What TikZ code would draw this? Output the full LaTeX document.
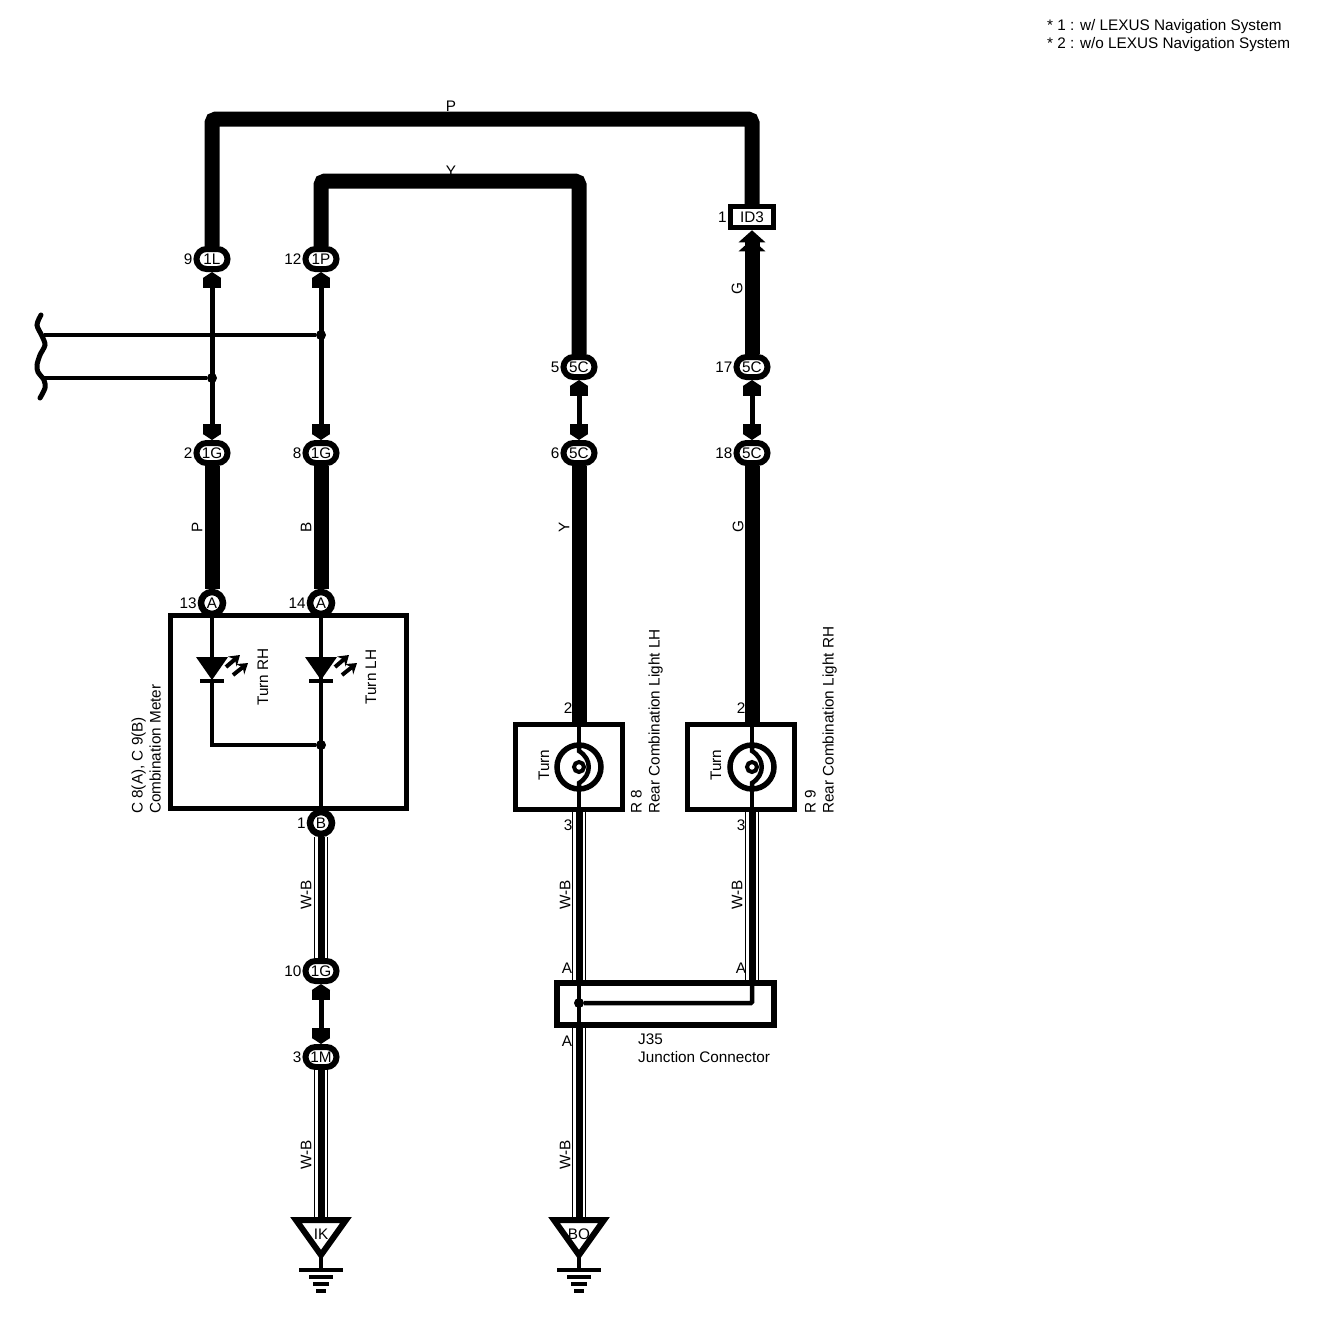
\documentclass[tikz,border=0pt]{standalone}
\usepackage{fontspec}
\setmainfont{Liberation Sans}
\usetikzlibrary{arrows.meta, shapes.geometric}

\begin{document}
\begin{tikzpicture}[
    % GLOBAL CFG
    x=1pt, y=-1pt,
    font=\fontsize{15.3}{18}\selectfont,
    % Styles
    plug/.tip={Square[length=10pt,width=18pt,sep=0pt] Triangle[length=6pt,width=18pt]},
    chevron/.tip={Triangle[length=12pt,width=26pt,sep=-3pt] Triangle[length=12pt,width=26pt]},
    conn/.style={% For the oval connectors
        rectangle,
        rounded corners=10pt,
        draw,
        fill=white,
        line width=6pt,
        minimum width=31pt,
        minimum height=20pt,
        inner sep=0pt,
        },
    pinA/.style={% For the round connectors
        circle,
        draw,
        fill=white,
        line width=6.5pt,
        minimum size=22pt,
        inner sep=0pt,
        },
    idbox/.style={% For the square connector
        rectangle,
        draw,
        fill=white,
        line width=5.5pt,
        minimum width=43pt,
        minimum height=21pt,
        inner sep=0pt,
        },
    unit/.style={% For the component boxes
        rectangle,
        draw,
        line width=5pt,
        },
    dot/.style={%For the splices
        circle,
        fill,
        inner sep=0pt,
        minimum size=10pt,
        },
    pinnum/.style={% Pin numbers
        inner sep=1pt,
        },
    side/.style={% Colour codes and names along the wires
        rotate=90,
        inner sep=0pt,
        },
    wireB/.style={% Big wire
        line width=15pt,
        rounded corners=4pt,
        },
    wireT/.style={% Thin wire
        line width=4.5pt,
        },
    wireP/.style={% Thin wire between two plugs
        line width=5pt,
        {plug}-{plug},
        },
    wireW/.style={% Striped wire
        line width=14pt,
        postaction={draw,white,line width=12pt},
        postaction={draw,black,line width=7pt},
        },
    led/.pic={
        \coordinate (-top) at (0,0);
        \coordinate (-bot) at (0,24);
        \fill (-16,0) -- (16,0) -- (0,23) -- cycle;
        \draw[line width=4pt] (-12,24) -- (12,24);
        \draw[line width=4pt,-{Stealth[length=10pt,width=13pt]}] (14,10) -- (28,-2);
        \draw[line width=4pt,-{Stealth[length=10pt,width=13pt]}] (21,18) -- (36,6);
        },
    lamp/.pic={
        \coordinate (-top) at (0,-22);
        \coordinate (-bot) at (0,22);
        \draw[line width=5.5pt] (0,0) circle[radius=22];
        \draw[line width=4.5pt] (-top) -- (0,-16) .. controls (13,-8) and (13,8) .. (0,16) -- (-bot);
        \draw[line width=4pt] (0,0) circle[radius=5];
        },
    ground/.pic={
        \coordinate (-top) at (0,0);
        \draw[line width=6pt] (-25,3) -- (25,3) -- (0,38) -- cycle;
        \draw[line width=4pt] (0,38) -- (0,53);
        \draw[line width=4pt] (-22,53) -- (22,53);
        \draw[line width=4pt] (-12,60) -- (12,60);
        \draw[line width=4pt] (-8,67) -- (8,67);
        \draw[line width=4pt] (-5,74) -- (5,74);
        \node[inner sep=0pt] at (0,17) {\tikzpictext};
        },
    ]
    \useasboundingbox (0,0) rectangle (1328,1320);

    % Draw the notes
    \node[anchor=west, inner sep=0pt] (note1) at (1047,26.5) {* 1 : w/ LEXUS Navigation System};
    \node[anchor=west, inner sep=0pt] (note2) at (1047,44.5) {* 2 : w/o LEXUS Navigation System};

    % Draw the connectors named p# after their pin number
    \node[conn, label={[pinnum]left:9}] (p9) at (212,259) {1L};
    \node[conn, label={[pinnum]left:12}] (p12) at (321,259) {1P};
    \node[conn, label={[pinnum]left:2}] (p2) at (212,453) {1G};
    \node[conn, label={[pinnum]left:8}] (p8) at (321,453) {1G};
    \node[conn, label={[pinnum]left:5}] (p5) at (579,367) {5C};
    \node[conn, label={[pinnum]left:6}] (p6) at (579,453) {5C};
    \node[conn, label={[pinnum]left:17}] (p17) at (752,367) {5C};
    \node[conn, label={[pinnum]left:18}] (p18) at (752,453) {5C};
    \node[conn, label={[pinnum]left:10}] (p10) at (321,971) {1G};
    \node[conn, label={[pinnum]left:3}] (p3) at (321,1057) {1M};
    \node[idbox, label={[pinnum]left:1}] (p1) at (752,217) {ID3};

    % Draw the boxes
    \node[unit, minimum width=236pt, minimum height=193pt] (meter) at (288.5,712) {};
    \node[unit, minimum width=107pt, minimum height=85pt] (r8) at (569,767) {};
    \node[unit, minimum width=107pt, minimum height=85pt] (r9) at (741,767) {};
    \node[unit, line width=6pt, minimum width=217pt, minimum height=42pt] (j35) at (665.5,1004) {};

    % Round connectors go over the meter box
    \node[pinA, label={[pinnum]left:13}] (p13) at (212,603) {A};
    \node[pinA, label={[pinnum]left:14}] (p14) at (321,603) {A};
    \node[pinA, label={[pinnum]left:1}] (pB) at (321,823) {B};

    % Corners of the long wires, brace ends and splices
    \coordinate (topP) at (482,119);
    \coordinate (topY) at (450,181);
    \coordinate (brA) at (44,335);
    \coordinate (brB) at (44,378);
    \node[dot] (d1) at (321,335) {};
    \node[dot] (d2) at (212,378) {};
    \node[dot] (d3) at (321,745) {};
    \node[dot] (d4) at (579,1003) {};

    % Draw the pictures
    \pic (led1) at (212,657) {led};
    \pic (led2) at (321,657) {led};
    \pic (lamp8) at (579,767) {lamp};
    \pic (lamp9) at (752,767) {lamp};
    \pic[pic text=IK] (gIK) at (321,1217) {ground};
    \pic[pic text=BO] (gBO) at (579,1217) {ground};

% Start connecting all.
    % Big wires
    \draw[wireB] (p9) |- (topP) -| (p1);
    \draw[wireB] (p12) |- (topY) -| (p5);
    \draw[wireB] (p2) -- (p13);
    \draw[wireB] (p8) -- (p14);
    \draw[wireB] (p6) -- (p6 |- r8.north);
    \draw[wireB] (p18) -- (p18 |- r9.north);
    \draw[wireB, {chevron}-] (p1) -- (p17);

    % Thin wires
    \draw[wireP] (p9) -- (p2);
    \draw[wireP] (p12) -- (p8);
    \draw[wireP] (p5) -- (p6);
    \draw[wireP] (p17) -- (p18);
    \draw[wireP] (p10) -- (p3);
    \draw[wireT] (brA) -- (d1);
    \draw[wireT] (brB) -- (d2);

    % Inside the boxes
    \draw[wireT] (p13) -- (led1-top);
    \draw[wireT] (led1-bot) |- (d3);
    \draw[wireT] (p14) -- (pB);
    \draw[wireT] (lamp8-top |- r8.north) -- (lamp8-top);
    \draw[wireT] (lamp8-bot) -- (lamp8-bot |- r8.south);
    \draw[wireT] (lamp9-top |- r9.north) -- (lamp9-top);
    \draw[wireT] (lamp9-bot) -- (lamp9-bot |- r9.south);
    \draw[wireT] (d4 |- j35.north) -- (d4 |- j35.south);
    \draw[wireT, rounded corners=1pt] (d4) -| (lamp9-bot |- j35.north);

    % Striped wires
    \draw[wireW] (pB) -- (p10);
    \draw[wireW] (p3) -- (gIK-top);
    \draw[wireW] (lamp8-bot |- r8.south) -- (d4 |- j35.north);
    \draw[wireW] (lamp9-bot |- r9.south) -- (lamp9-bot |- j35.north);
    \draw[wireW] (d4 |- j35.south) -- (gBO-top);

    % The brace
    \draw[line width=5pt, line cap=round] plot[smooth] coordinates {(41,315) (37,325) (42,336) (45,345) (40,355) (37,365) (38,372) (44,380) (45,388) (40,398)};

    % Wire colours
    \node[inner sep=0pt] (cP) at (451,106) {P};
    \node[inner sep=0pt] (cY) at (451,171) {Y};
    \node[side] (cG1) at (737,289) {G};
    \node[side] (cP2) at (197,527) {P};
    \node[side] (cB) at (306,527) {B};
    \node[side] (cY2) at (564,527) {Y};
    \node[side] (cG2) at (738,527) {G};
    \node[side] (cW1) at (306,895) {W-B};
    \node[side] (cW2) at (565,895) {W-B};
    \node[side] (cW3) at (737,895) {W-B};
    \node[side] (cW4) at (306,1155) {W-B};
    \node[side] (cW5) at (565,1155) {W-B};

    % Pin letters and numbers on the boxes
    \node[inner sep=0pt] (n2a) at (568,708) {2};
    \node[inner sep=0pt] (n2b) at (741,708) {2};
    \node[inner sep=0pt] (n3a) at (568,825) {3};
    \node[inner sep=0pt] (n3b) at (741,825) {3};
    \node[inner sep=0pt] (nAa) at (567,968) {A};
    \node[inner sep=0pt] (nAb) at (741,968) {A};
    \node[inner sep=0pt] (nAc) at (567,1041) {A};

    % Names
    \node[side] (turnR) at (263,677) {Turn RH};
    \node[side] (turnL) at (371,677) {Turn LH};
    \node[side] (turn8) at (544,765) {Turn};
    \node[side] (turn9) at (716,765) {Turn};
    \node[side, anchor=south west, align=left] (nameC) at (161,814) {C 8(A), C 9(B)\\Combination Meter};
    \node[side, anchor=south west, align=left] (nameR8) at (663,814) {R 8\\Rear Combination Light LH};
    \node[side, anchor=south west, align=left] (nameR9) at (837,814) {R 9\\Rear Combination Light RH};
    \node[anchor=north west, align=left, inner sep=0pt] (nameJ) at (638,1034) {J35\\Junction Connector};

\end{tikzpicture}
\end{document}
